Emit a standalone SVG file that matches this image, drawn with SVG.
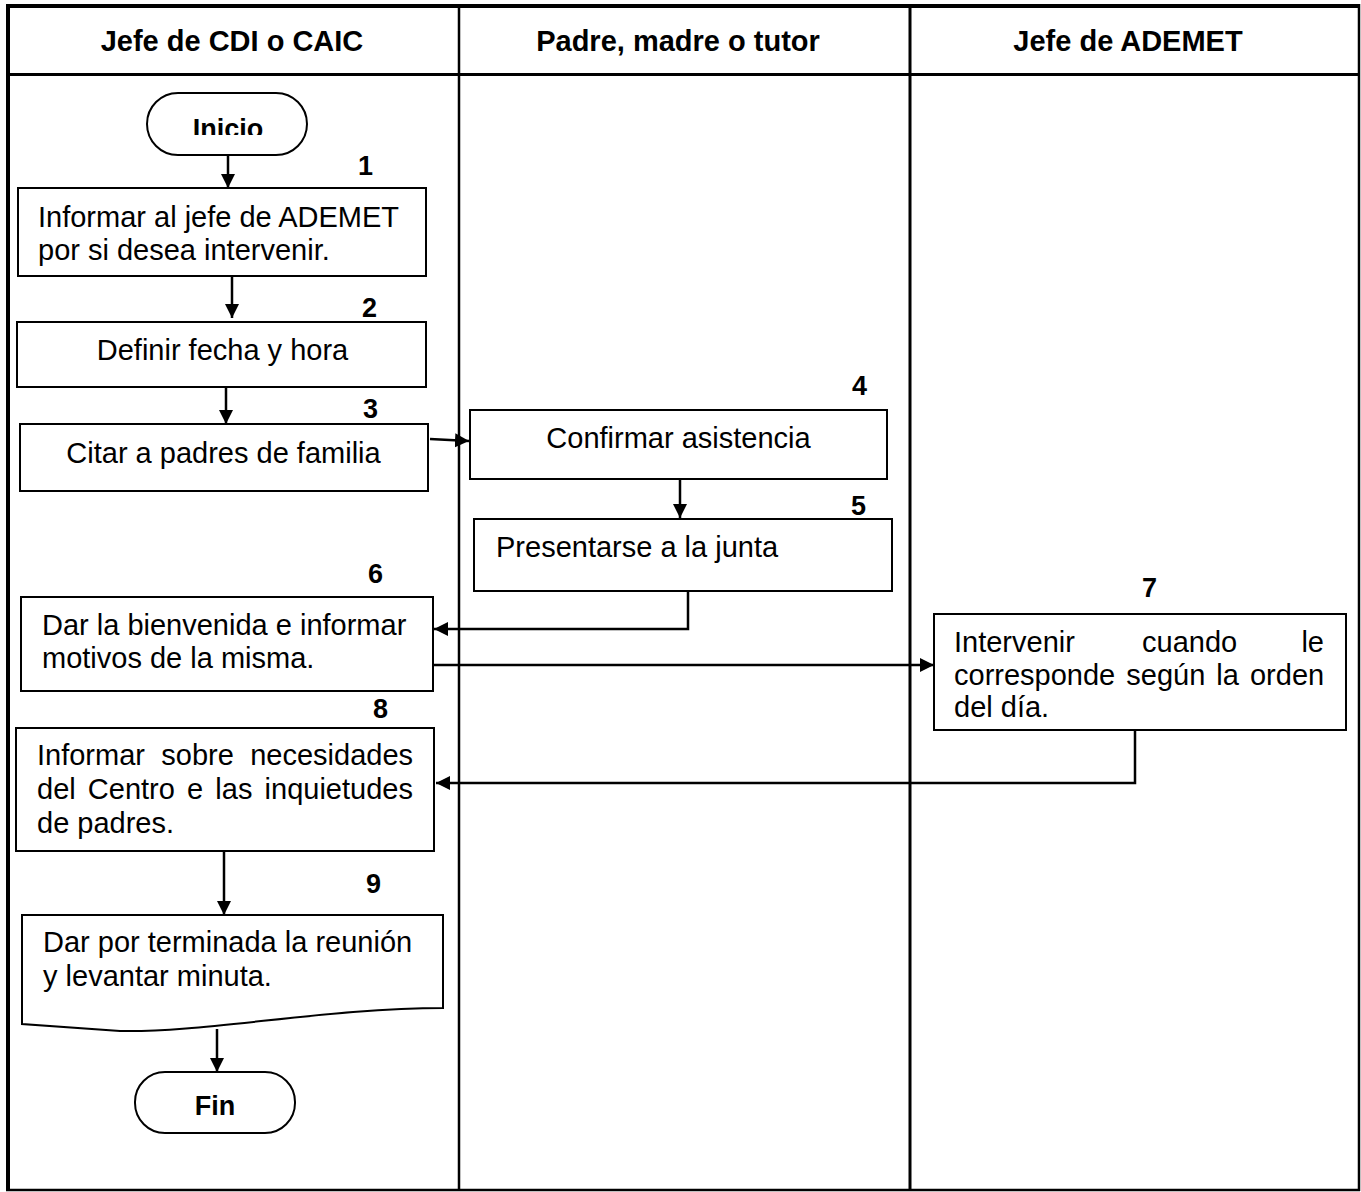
<svg xmlns="http://www.w3.org/2000/svg" width="1361" height="1192" viewBox="0 0 1361 1192">
<style>
  .t { font-family: "Liberation Sans", Arial, sans-serif; font-size: 29px; fill: #000; }
  .h { font-family: "Liberation Sans", Arial, sans-serif; font-size: 29px; font-weight: bold; fill: #000; text-anchor: middle; }
  .n { font-family: "Liberation Sans", Arial, sans-serif; font-size: 27px; font-weight: bold; fill: #000; text-anchor: end; }
  .tb { font-family: "Liberation Sans", Arial, sans-serif; font-size: 27px; font-weight: bold; fill: #000; text-anchor: middle; }
  .box { fill: #fff; stroke: #000; stroke-width: 2; }
  .c { fill: none; stroke: #000; stroke-width: 2.5; }
  .ca { fill: none; stroke: #000; stroke-width: 2.5; marker-end: url(#ah); }
</style>
<defs>
  <marker id="ah" markerUnits="userSpaceOnUse" markerWidth="16" markerHeight="16" refX="14" refY="8" orient="auto">
    <path d="M0,1 L14,8 L0,15 Z" fill="#000"/>
  </marker>
  <clipPath id="clipInicio"><rect x="140" y="90" width="180" height="45"/></clipPath>
</defs>
<rect width="1361" height="1192" fill="#fff"/>

<g id="lanes">
  <line x1="8" y1="6" x2="1359" y2="6" stroke="#000" stroke-width="4"/>
  <line x1="8" y1="4" x2="8" y2="1191" stroke="#000" stroke-width="4"/>
  <line x1="1359" y1="4" x2="1359" y2="1191" stroke="#000" stroke-width="2.5"/>
  <line x1="6" y1="1190" x2="1360" y2="1190" stroke="#000" stroke-width="2.5"/>
  <line x1="8" y1="74.5" x2="1359" y2="74.5" stroke="#000" stroke-width="3"/>
  <line x1="459" y1="6" x2="459" y2="1190" stroke="#000" stroke-width="2.5"/>
  <line x1="910" y1="6" x2="910" y2="1190" stroke="#000" stroke-width="3"/>
  <text class="h" x="232" y="51">Jefe de CDI o CAIC</text>
  <text class="h" x="678" y="51">Padre, madre o tutor</text>
  <text class="h" x="1128" y="51">Jefe de ADEMET</text>
</g>

<g id="connectors">
  <line class="ca" x1="228" y1="155" x2="228" y2="188"/>
  <line class="ca" x1="232" y1="276" x2="232" y2="318"/>
  <line class="ca" x1="226" y1="387" x2="226" y2="424"/>
  <line class="ca" x1="430" y1="439" x2="469" y2="441"/>
  <line class="ca" x1="680" y1="480" x2="680" y2="518"/>
  <polyline class="ca" points="688,591 688,629 434,629"/>
  <line class="ca" x1="433" y1="665" x2="934" y2="665"/>
  <polyline class="ca" points="1135,730 1135,783 436,783"/>
  <line class="ca" x1="224" y1="851" x2="224" y2="915"/>
  <line class="ca" x1="217" y1="1029" x2="217" y2="1072"/>
</g>

<g id="inicio">
  <rect class="box" x="147" y="93" width="160" height="62" rx="31" ry="31"/>
  <text class="tb" x="228" y="137.5" clip-path="url(#clipInicio)">Inicio</text>
</g>

<g id="step1">
  <rect class="box" x="18" y="188" width="408" height="88"/>
  <text class="n" x="373" y="175">1</text>
  <text class="t" x="38" y="227">Informar al jefe de ADEMET</text>
  <text class="t" x="38" y="260">por si desea intervenir.</text>
</g>

<g id="step2">
  <rect class="box" x="17" y="322" width="409" height="65"/>
  <text class="n" x="377" y="317">2</text>
  <text class="t" x="222.5" y="360" text-anchor="middle">Definir fecha y hora</text>
</g>

<g id="step3">
  <rect class="box" x="20" y="424" width="408" height="67"/>
  <text class="n" x="378" y="418">3</text>
  <text class="t" x="223.5" y="463" text-anchor="middle">Citar a padres de familia</text>
</g>

<g id="step4">
  <rect class="box" x="470" y="410" width="417" height="69"/>
  <text class="n" x="867" y="395">4</text>
  <text class="t" x="678.5" y="448" text-anchor="middle">Confirmar asistencia</text>
</g>

<g id="step5">
  <rect class="box" x="474" y="519" width="418" height="72"/>
  <text class="n" x="866" y="515">5</text>
  <text class="t" x="496" y="557">Presentarse a la junta</text>
</g>

<g id="step6">
  <rect class="box" x="21" y="597" width="412" height="94"/>
  <text class="n" x="383" y="583">6</text>
  <text class="t" x="42" y="635">Dar la bienvenida e informar</text>
  <text class="t" x="42" y="668">motivos de la misma.</text>
</g>

<g id="step7">
  <rect class="box" x="934" y="614" width="412" height="116"/>
  <text class="n" x="1157" y="597">7</text>
  <text class="t" x="954" y="652">Intervenir</text>
  <text class="t" x="1142" y="652">cuando</text>
  <text class="t" x="1324" y="652" text-anchor="end">le</text>
  <text class="t" x="954" y="685" word-spacing="3">corresponde según la orden</text>
  <text class="t" x="954" y="717">del día.</text>
</g>

<g id="step8">
  <rect class="box" x="16" y="728" width="418" height="123"/>
  <text class="n" x="388" y="718">8</text>
  <text class="t" x="37" y="765" word-spacing="8.3">Informar sobre necesidades</text>
  <text class="t" x="37" y="799" word-spacing="4.1">del Centro e las inquietudes</text>
  <text class="t" x="37" y="833">de padres.</text>
</g>

<g id="step9">
  <path class="box" d="M22,915 H443 V1008 C330,1008 200,1033 120,1031 L22,1024 Z"/>
  <text class="n" x="381" y="893">9</text>
  <text class="t" x="43" y="952">Dar por terminada la reunión</text>
  <text class="t" x="43" y="986">y levantar minuta.</text>
</g>

<g id="fin">
  <rect class="box" x="135" y="1072" width="160" height="61" rx="30" ry="30"/>
  <text class="tb" x="215" y="1115">Fin</text>
</g>
</svg>
